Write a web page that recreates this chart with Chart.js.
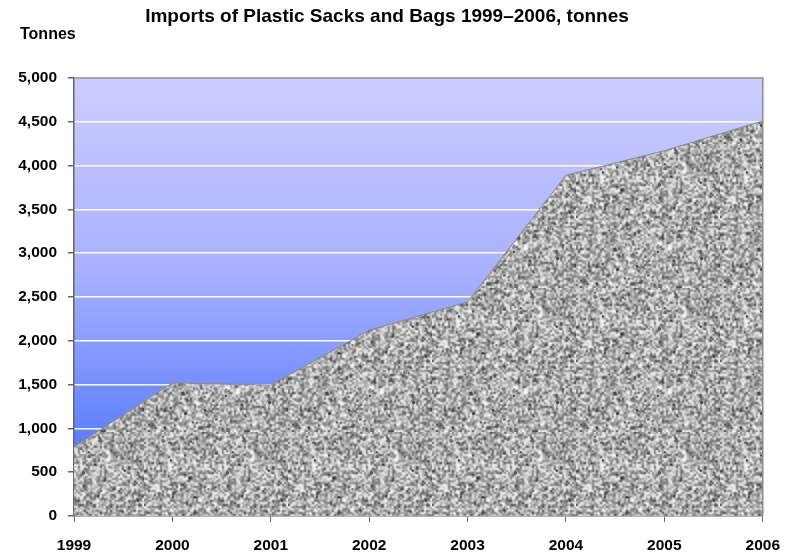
<!DOCTYPE html>
<html>
<head>
<meta charset="utf-8">
<script src="https://cdn.jsdelivr.net/npm/chart.js@4.4.1/dist/chart.umd.min.js"></script>
<style>
  html, body { margin: 0; padding: 0; background: #ffffff; }
  #wrap { width: 794px; height: 559px; position: relative; }
</style>
</head>
<body>
<div id="wrap"><canvas id="chart" width="794" height="559"></canvas></div>
<script>
const years   = ['1999', '2000', '2001', '2002', '2003', '2004', '2005', '2006'];
const imports = [790, 1520, 1495, 2120, 2445, 3890, 4170, 4510];
const yTicks  = [0, 500, 1000, 1500, 2000, 2500, 3000, 3500, 4000, 4500, 5000];

const FONT = '"Liberation Sans", Arial, sans-serif';

// granite-ish fill, seeded so every render looks the same
function makeGranite() {
  let seed = 12345;
  const rnd = () => { seed = (seed * 1103515245 + 12345) & 0x7fffffff; return seed / 0x7fffffff; };

  const n = 72;
  const small = document.createElement('canvas');
  small.width = n; small.height = n;
  const sctx = small.getContext('2d');
  const img  = sctx.createImageData(n, n);
  for (let i = 0; i < n * n; i++) {
    let v = 110 + rnd() * 145;
    if (rnd() < 0.08) v = 50 + rnd() * 50;
    img.data[i * 4]     = v;
    img.data[i * 4 + 1] = v;
    img.data[i * 4 + 2] = v;
    img.data[i * 4 + 3] = 255;
  }
  sctx.putImageData(img, 0, 0);

  const size = n * 2;
  const big = document.createElement('canvas');
  big.width = size; big.height = size;
  const bctx = big.getContext('2d');
  bctx.imageSmoothingEnabled = true;
  bctx.filter = 'blur(0.6px)';
  // draw tiled so the blur wraps at the edges
  for (let dx = -1; dx <= 1; dx++) {
    for (let dy = -1; dy <= 1; dy++) {
      bctx.drawImage(small, dx * size, dy * size, size, size);
    }
  }
  bctx.filter = 'none';
  for (let i = 0; i < 70; i++) {
    bctx.fillStyle = 'rgba(25,25,25,' + (0.3 + rnd() * 0.4) + ')';
    bctx.beginPath();
    bctx.arc(rnd() * size, rnd() * size, 0.8 + rnd() * 1.1, 0, Math.PI * 2);
    bctx.fill();
  }
  return bctx.createPattern(big, 'repeat');
}

const plotBackground = {
  id: 'plotBackground',
  beforeDraw(chart) {
    const { ctx, chartArea: a } = chart;
    const g = ctx.createLinearGradient(0, a.top, 0, a.bottom);
    g.addColorStop(0, '#ccccff');
    g.addColorStop(0.45, '#a8b0ff');
    g.addColorStop(1, '#3a68ff');
    ctx.save();
    ctx.fillStyle = g;
    ctx.fillRect(a.left, a.top, a.right - a.left, a.bottom - a.top);
    ctx.restore();
  },
  afterDatasetsDraw(chart) {
    const { ctx, chartArea: a } = chart;
    ctx.save();
    ctx.strokeStyle = '#8c8c8c';
    ctx.lineWidth = 1.5;
    ctx.beginPath();
    ctx.moveTo(a.left, a.top);
    ctx.lineTo(a.right, a.top);
    ctx.lineTo(a.right, a.bottom);
    ctx.stroke();
    ctx.restore();
  },
  afterDraw(chart) {
    const { ctx } = chart;
    ctx.save();
    ctx.fillStyle = '#000000';
    ctx.textBaseline = 'middle';
    ctx.font = 'bold 19px ' + FONT;
    ctx.textAlign = 'center';
    ctx.fillText('Imports of Plastic Sacks and Bags 1999\u20132006, tonnes', 387, 17);
    ctx.font = 'bold 16px ' + FONT;
    ctx.textAlign = 'left';
    ctx.fillText('Tonnes', 20, 35);
    ctx.restore();
  }
};

const ctx = document.getElementById('chart').getContext('2d');
new Chart(ctx, {
  type: 'line',
  data: {
    labels: years,
    datasets: [{
      data: imports,
      fill: 'origin',
      backgroundColor: makeGranite(),
      borderColor: '#8a8a8a',
      borderWidth: 1,
      pointRadius: 0,
      tension: 0
    }]
  },
  options: {
    responsive: false,
    animation: false,
    devicePixelRatio: 1,
    layout: { padding: { top: 78, right: 27, left: 0, bottom: 0 } },
    plugins: {
      legend: { display: false },
      tooltip: { enabled: false }
    },
    scales: {
      x: {
        offset: false,
        grid: { drawOnChartArea: false, drawTicks: true, tickLength: 6, tickColor: '#666666' },
        border: { color: '#666666', width: 1.5 },
        ticks: { color: '#000000', font: { family: FONT, size: 15.5, weight: 'bold' }, padding: 14, maxRotation: 0, autoSkip: false },
        afterFit: s => { s.height = 43; }
      },
      y: {
        min: 0,
        max: 5000,
        afterBuildTicks: s => { s.ticks = yTicks.map(v => ({ value: v })); },
        grid: { color: '#ffffff', lineWidth: 1.5, drawTicks: true, tickLength: 6, tickColor: '#666666' },
        border: { color: '#666666', width: 1.5 },
        ticks: {
          color: '#000000',
          font: { family: FONT, size: 15.5, weight: 'bold' },
          padding: 11,
          callback: v => v.toLocaleString('en-US')
        },
        afterFit: s => { s.width = 74; }
      }
    }
  },
  plugins: [plotBackground]
});
</script>
</body>
</html>
